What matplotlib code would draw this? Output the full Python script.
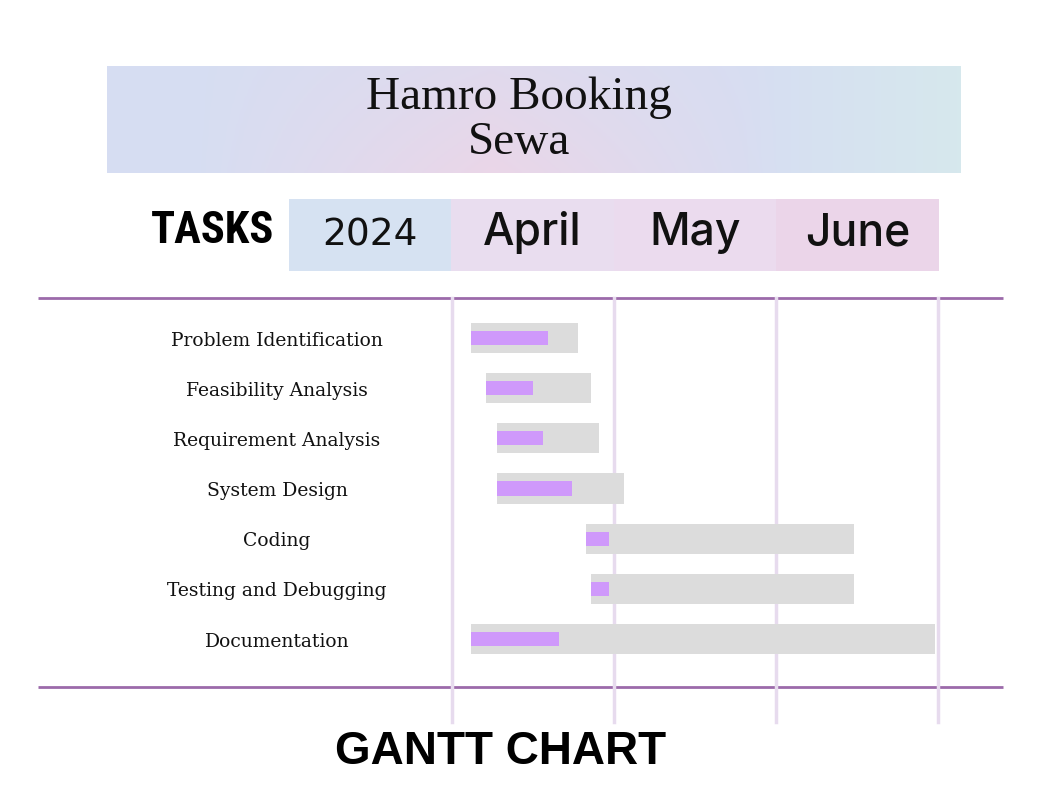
import matplotlib
matplotlib.use('Agg')
import matplotlib.pyplot as plt
from matplotlib import font_manager
from matplotlib.transforms import blended_transform_factory
from matplotlib.patches import Rectangle
import numpy as np

# tasks (x in months from 1 April)
tasks = ['Problem Identification', 'Feasibility Analysis', 'Requirement Analysis',
         'System Design', 'Coding', 'Testing and Debugging', 'Documentation']
start = [0.12, 0.21, 0.28, 0.28, 0.83, 0.86, 0.12]
end = [0.78, 0.86, 0.91, 1.06, 2.48, 2.48, 2.98]
progress_end = [0.59, 0.50, 0.56, 0.74, 0.97, 0.97, 0.66]
months = ['April', 'May', 'June']
year = '2024'

W, H = 1051, 810

names = {f.name for f in font_manager.fontManager.ttflist}
narrow = 'DejaVu Sans'
for cand in ['Liberation Sans Narrow', 'DejaVu Sans Condensed', 'Roboto Condensed', 'Open Sans Condensed']:
    if cand in names:
        narrow = cand
        break

fig = plt.figure(figsize=(W / 100, H / 100), dpi=100)

# overlay axes in pixel units
bg = fig.add_axes([0, 0, 1, 1])
bg.set_xlim(0, W)
bg.set_ylim(H, 0)
bg.axis('off')

# title banner with a soft pastel gradient
gx = np.linspace(0, 1, 200)
gy = np.linspace(0, 1, 40)
X, Y = np.meshgrid(gx, gy)
c_blue = np.array([0.84, 0.87, 0.95])
c_pink = np.array([0.92, 0.84, 0.91])
c_teal = np.array([0.84, 0.91, 0.93])
wa = np.clip(1 - np.abs(X - 0.45) / 0.35, 0, 1)[..., None] * (0.5 + 0.5 * Y[..., None])
wt = np.clip((X - 0.75) / 0.25, 0, 1)[..., None]
img = c_blue * (1 - wa) + c_pink * wa
img = img * (1 - wt) + c_teal * wt
bg.imshow(img, extent=(107, 961, 173, 66), aspect='auto', zorder=1)
bg.text(519, 120, 'Hamro Booking\nSewa', ha='center', va='center', fontsize=34,
        family='Liberation Serif', linespacing=1.08, color='#111111', zorder=2)

# header row
bg.text(212, 231, 'TASKS', ha='center', va='center', fontsize=32, fontweight='bold',
        family=narrow, color='black')
cells = [(289, 451, '#d6e2f2', year), (451, 614, '#e9ddef', months[0]),
         (614, 776, '#ebdbee', months[1]), (776, 939, '#ebd5e9', months[2])]
for x0, x1, col, lab in cells:
    bg.add_patch(Rectangle((x0, 199), x1 - x0, 72, facecolor=col, edgecolor='none'))
    if lab == year:
        bg.text((x0 + x1) / 2, 235, lab, ha='center', va='center', fontsize=27,
                family='DejaVu Sans', fontweight='medium', color='#111111')
    else:
        bg.text((x0 + x1) / 2, 233, lab, ha='center', va='center', fontsize=32,
                family='Inter', fontweight='medium', color='#111111')

# purple separators
for yy in (298, 687):
    bg.plot([38, 1003], [yy, yy], color='#9c6aaa', lw=2, solid_capstyle='butt', zorder=3)

bg.text(501, 752, 'GANTT CHART', ha='center', va='center', fontsize=33,
        fontweight='bold', family='Liberation Sans', color='black')

# gantt axes: x 452..938 px -> 0..3 months, y 298..722 px
ax = fig.add_axes([452 / W, 1 - 722 / H, 486 / W, 424 / H])
ax.patch.set_alpha(0)
ax.set_xlim(0, 3)
step = 50.17
ax.set_ylim((424 - 40) / step, -40 / step)
ax.axis('off')

for m in range(4):
    ax.axvline(m, color='#e7dbee', lw=2.5, clip_on=False, zorder=0)

rows = np.arange(len(tasks))
ax.barh(rows, np.array(end) - np.array(start), left=start, height=0.6,
        color='#dcdcdc', zorder=1)
ax.barh(rows, np.array(progress_end) - np.array(start), left=start, height=0.28,
        color='#cf99fb', zorder=2)

tr = blended_transform_factory(ax.transAxes, ax.transData)
for r, t in zip(rows, tasks):
    ax.text((277 - 452) / 486, r + 0.05, t, transform=tr, ha='center', va='center',
            fontsize=13.5, family='DejaVu Serif', color='#111111')

fig.savefig('out.png', dpi=100)
